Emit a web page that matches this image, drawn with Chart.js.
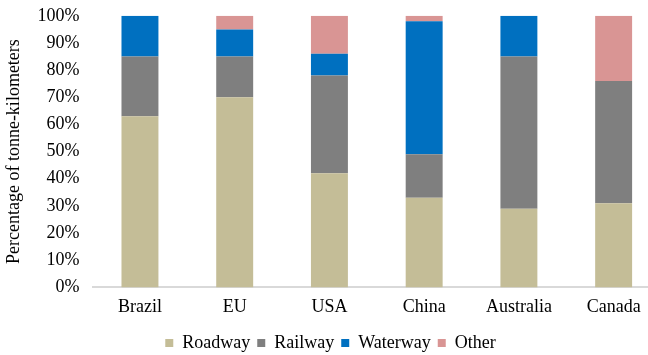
<!DOCTYPE html>
<html>
<head>
<meta charset="utf-8">
<script src="https://cdn.jsdelivr.net/npm/chart.js@4"></script>
<style>
    html, body { margin: 0; padding: 0; background: #fff; overflow: hidden; }
    #wrap { width: 661px; height: 370px; margin-top: -8px; }
</style>
</head>
<body>
<div id="wrap"><canvas id="chart"></canvas></div>
<script>
// Categories and shares (% of tonne-km)
const countries = ['Brazil', 'EU', 'USA', 'China', 'Australia', 'Canada'];
const roadway  = [63, 70, 42, 33, 29, 31];
const railway  = [22, 15, 36, 16, 56, 45];
const waterway = [15, 10, 8, 49, 15, 0];
const other    = [0, 5, 14, 2, 0, 24];
const yTicks = [0, 10, 20, 30, 40, 50, 60, 70, 80, 90, 100];

const serif = '"Liberation Serif", "Times New Roman", serif';

function makeSet(label, data, color) {
    return {
        label: label,
        data: data,
        backgroundColor: color,
        borderWidth: 0,
        barPercentage: 0.39,
        categoryPercentage: 1.0
    };
}

const ctx = document.getElementById('chart').getContext('2d');
new Chart(ctx, {
    type: 'bar',
    data: {
        labels: countries,
        datasets: [
            makeSet('Roadway', roadway, '#c4bd97'),
            makeSet('Railway', railway, '#7f7f7f'),
            makeSet('Waterway', waterway, '#0070c0'),
            makeSet('Other', other, '#d99594')
        ]
    },
    options: {
        responsive: true,
        maintainAspectRatio: false,
        animation: false,
        layout: { padding: { top: 7, left: 0, right: 0, bottom: 0 } },
        plugins: {
            legend: {
                position: 'bottom',
                labels: {
                    boxWidth: 8,
                    boxHeight: 8,
                    padding: 7,
                    color: '#000',
                    font: { family: serif, size: 18 }
                }
            },
            tooltip: { enabled: false }
        },
        scales: {
            x: {
                stacked: true,
                grid: { display: false, drawTicks: false },
                border: { color: '#d9d9d9', width: 2 },
                ticks: { color: '#000', padding: 9, font: { family: serif, size: 18 } }
            },
            y: {
                stacked: true,
                min: 0,
                max: 100,
                afterBuildTicks: axis => { axis.ticks = yTicks.map(v => ({ value: v })); },
                grid: { display: false, drawTicks: false },
                border: { display: false },
                ticks: {
                    color: '#000',
                    padding: 13,
                    font: { family: serif, size: 18 },
                    callback: v => v + '%'
                },
                title: {
                    display: true,
                    text: 'Percentage of tonne-kilometers',
                    color: '#000',
                    padding: { top: 3, bottom: 0 },
                    font: { family: serif, size: 18 }
                }
            }
        }
    }
});
</script>
</body>
</html>
